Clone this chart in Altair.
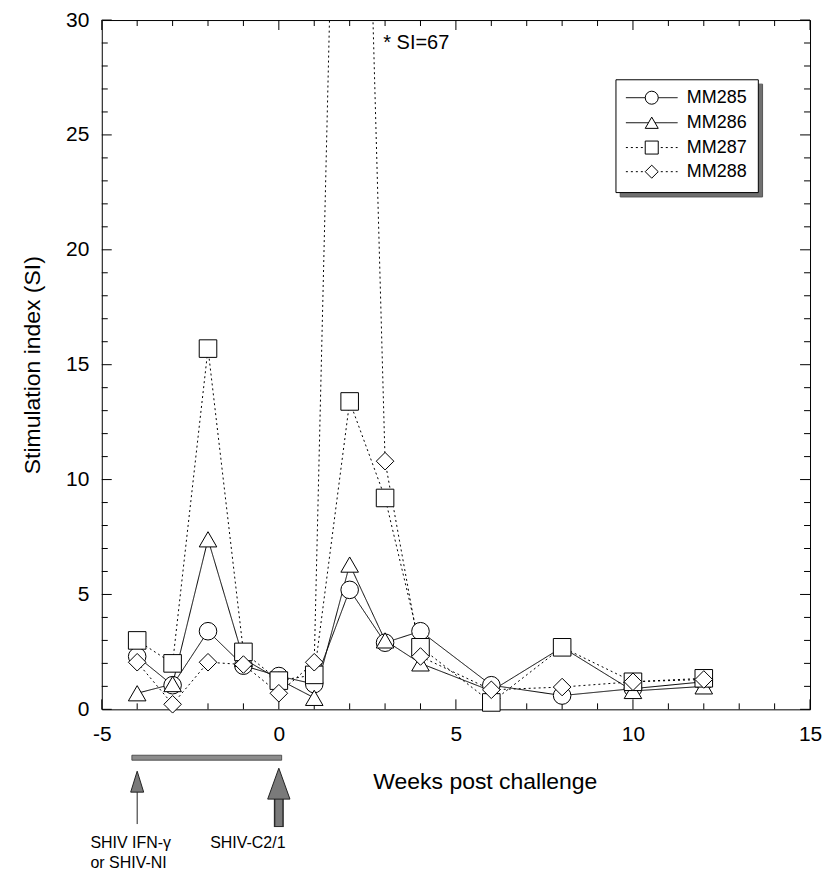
import altair as alt
import pandas as pd

# ---- data ----
weeks = [-4, -3, -2, -1, 0, 1, 2, 3, 4, 6, 8, 10, 12]
mm285 = [2.3, 1.05, 3.4, 1.9, 1.45, 1.1, 5.2, 2.9, 3.4, 1.05, 0.6, 0.9, 1.2]
mm286 = [0.7, 1.1, 7.4, 2.2, 1.3, 0.5, 6.3, 3.0, 2.0, 0.8, 2.7, 0.8, 1.0]
mm287 = [3.0, 2.0, 15.7, 2.5, 1.25, 1.5, 13.4, 9.2, 2.7, 0.3, 2.7, 1.2, 1.35]
mm288 = [2.05, 0.22, 2.05, 1.95, 0.7, 2.05, 67, 10.8, 2.3, 0.85, 0.97, 1.2, 1.3]
animals = ["MM285", "MM286", "MM287", "MM288"]
shapes = ["circle", "triangle-up", "square", "diamond"]
dashes = [[1, 0], [1, 0], [2, 3], [2, 3]]

x_ticks_major = [-5, 0, 5, 10, 15]
x_ticks_minor = [v for v in range(-5, 16) if v % 5]
y_ticks_major = [0, 5, 10, 15, 20, 25, 30]
y_ticks_minor = [v for v in range(0, 31) if v % 5]

# legend rows (in data units inside the plot)
leg_rows = [26.62, 25.53, 24.45, 23.40]
leg_box = dict(x1=9.52, x2=13.54, y1=27.40, y2=22.49)

# annotation
vacc_weeks = [-4, 0]
bar_span = [-4.15, 0.08]
note_text = "* SI=67"

W, H = 710, 691
FONT = "Liberation Sans, Arial, Helvetica, sans-serif"

rows = []
for i, (name, vals) in enumerate(zip(animals, [mm285, mm286, mm287, mm288])):
    for w, v in zip(weeks, vals):
        rows.append({"animal": name, "week": w, "si": v, "idx": i})
df = pd.DataFrame(rows)

xs = alt.Scale(domain=[-5, 15], nice=False, zero=False)
ys = alt.Scale(domain=[0, 30], nice=False, zero=False)

dash_scale = alt.Scale(domain=animals, range=dashes)
shape_scale = alt.Scale(domain=animals, range=shapes)

x_axis = alt.Axis(values=x_ticks_major, ticks=False, domain=False, grid=False,
                  labelExpr="'' + datum.value", labelFlush=False, labelOverlap=False,
                  labelFontSize=21, labelFont=FONT, labelColor="black", labelPadding=14,
                  title="Weeks post challenge", titleFont=FONT, titleFontSize=23,
                  titleFontWeight="normal", titleColor="black",
                  titleX=384, titleY=72, titleAlign="center", titleBaseline="middle")
y_axis = alt.Axis(values=y_ticks_major, ticks=False, domain=False, grid=False,
                  labelExpr="'' + datum.value", labelFlush=False, labelOverlap=False,
                  labelFontSize=21, labelFont=FONT, labelColor="black", labelPadding=13,
                  title="Stimulation index (SI)", titleFont=FONT, titleFontSize=23,
                  titleFontWeight="normal", titleColor="black",
                  titleX=-69, titleY=H / 2, titleAngle=270, titleAlign="center",
                  titleBaseline="middle")

lines = alt.Chart(df).mark_line(clip=True, color="black", strokeWidth=1).encode(
    x=alt.X("week:Q", scale=xs, axis=x_axis),
    y=alt.Y("si:Q", scale=ys, axis=y_axis),
    detail="animal:N",
    strokeDash=alt.StrokeDash("animal:N", scale=dash_scale, legend=None),
    order="week:Q",
)

points = alt.Chart(df).transform_filter("datum.si <= 30").mark_point(
    filled=True, fill="white", stroke="black", strokeWidth=1, size=310, opacity=1
).encode(
    x=alt.X("week:Q", scale=xs),
    y=alt.Y("si:Q", scale=ys),
    shape=alt.Shape("animal:N", scale=shape_scale, legend=None),
    order="idx:Q",
)

# inward ticks on all four sides
def vticks(vals, length, top):
    d = pd.DataFrame({"v": vals})
    if top:
        enc = dict(y=alt.value(0), y2=alt.value(length))
    else:
        enc = dict(y=alt.value(H), y2=alt.value(H - length))
    return alt.Chart(d).mark_rule(color="black", strokeWidth=1).encode(
        x=alt.X("v:Q", scale=xs), **enc)

def hticks(vals, length, right):
    d = pd.DataFrame({"v": vals})
    if right:
        enc = dict(x=alt.value(W), x2=alt.value(W - length))
    else:
        enc = dict(x=alt.value(0), x2=alt.value(length))
    return alt.Chart(d).mark_rule(color="black", strokeWidth=1).encode(
        y=alt.Y("v:Q", scale=ys), **enc)

ticks = [
    vticks(x_ticks_major, 10, False), vticks(x_ticks_minor, 6, False),
    vticks(x_ticks_major, 10, True), vticks(x_ticks_minor, 6, True),
    hticks(y_ticks_major, 10, False), hticks(y_ticks_minor, 6, False),
    hticks(y_ticks_major, 10, True), hticks(y_ticks_minor, 6, True),
]

# "* SI=67" note
note = alt.Chart(pd.DataFrame({"week": [2.95], "si": [29.0], "t": [note_text]})).mark_text(
    align="left", baseline="middle", fontSize=20, font=FONT, color="black"
).encode(x=alt.X("week:Q", scale=xs), y=alt.Y("si:Q", scale=ys), text="t:N")

# legend: shadow, box, samples, labels
dx, dy = 0.12, 0.19
shadow_df = pd.DataFrame({"x1": [leg_box["x1"] + dx], "x2": [leg_box["x2"] + dx],
                          "y1": [leg_box["y1"] - dy], "y2": [leg_box["y2"] - dy]})
box_df = pd.DataFrame({"x1": [leg_box["x1"]], "x2": [leg_box["x2"]],
                       "y1": [leg_box["y1"]], "y2": [leg_box["y2"]]})
leg_shadow = alt.Chart(shadow_df).mark_rect(fill="#707070", stroke="#555555", strokeWidth=1).encode(
    x=alt.X("x1:Q", scale=xs), x2="x2:Q", y=alt.Y("y1:Q", scale=ys), y2="y2:Q")
leg_box_m = alt.Chart(box_df).mark_rect(fill="white", stroke="black", strokeWidth=1).encode(
    x=alt.X("x1:Q", scale=xs), x2="x2:Q", y=alt.Y("y1:Q", scale=ys), y2="y2:Q")

leg_df = pd.DataFrame({"animal": animals, "y": leg_rows,
                       "xa": [9.8] * 4, "xb": [11.26] * 4, "xm": [10.53] * 4,
                       "xt": [11.52] * 4})
leg_lines = alt.Chart(leg_df).mark_rule(color="black", strokeWidth=1).encode(
    x=alt.X("xa:Q", scale=xs), x2="xb:Q", y=alt.Y("y:Q", scale=ys),
    strokeDash=alt.StrokeDash("animal:N", scale=dash_scale, legend=None),
)
leg_pts = alt.Chart(leg_df).mark_point(
    filled=True, fill="white", stroke="black", strokeWidth=1, size=170, opacity=1
).encode(
    x=alt.X("xm:Q", scale=xs), y=alt.Y("y:Q", scale=ys),
    shape=alt.Shape("animal:N", scale=shape_scale, legend=None),
)
leg_txt = alt.Chart(leg_df).mark_text(
    align="left", baseline="middle", fontSize=18, font=FONT, color="black"
).encode(x=alt.X("xt:Q", scale=xs), y=alt.Y("y:Q", scale=ys), text="animal:N")

# bottom annotations: bar and arrows
bar = alt.Chart(pd.DataFrame({"a": [bar_span[0]], "b": [bar_span[1]]})).mark_rect(
    fill="#8c8c8c", stroke="#3a3a3a", strokeWidth=0.8
).encode(x=alt.X("a:Q", scale=xs), x2="b:Q", y=alt.value(H + 46), y2=alt.value(H + 51))

thin_df = pd.DataFrame({"w": [vacc_weeks[0]]})
thick_df = pd.DataFrame({"w": [vacc_weeks[1]]})
thin_shaft = alt.Chart(thin_df).mark_rule(color="#222", strokeWidth=1).encode(
    x=alt.X("w:Q", scale=xs), y=alt.value(H + 80), y2=alt.value(H + 115))
thin_head = alt.Chart(thin_df).mark_point(
    shape="M0,-1L0.62,1L-0.62,1Z", filled=True, fill="#7a7a7a", stroke="#222",
    strokeWidth=1, size=441, opacity=1
).encode(x=alt.X("w:Q", scale=xs), y=alt.value(H + 72.5))
thick_shaft_o = alt.Chart(thick_df).mark_rule(color="#2a2a2a", strokeWidth=10).encode(
    x=alt.X("w:Q", scale=xs), y=alt.value(H + 86), y2=alt.value(H + 118))
thick_shaft_i = alt.Chart(thick_df).mark_rule(color="#7a7a7a", strokeWidth=7).encode(
    x=alt.X("w:Q", scale=xs), y=alt.value(H + 86), y2=alt.value(H + 117))
thick_head = alt.Chart(thick_df).mark_point(
    shape="M0,-1L0.72,1L-0.72,1Z", filled=True, fill="#7a7a7a", stroke="#222",
    strokeWidth=1, size=961, opacity=1
).encode(x=alt.X("w:Q", scale=xs), y=alt.value(H + 74.5))

ann_df = pd.DataFrame({
    "w": [-5.32, -5.32, -1.94],
    "t": ["SHIV IFN-γ", "or SHIV-NI", "SHIV-C2/1"],
    "py": [H + 134, H + 154, H + 134],
})
ann = alt.Chart(ann_df).mark_text(
    align="left", baseline="middle", fontSize=16, font=FONT, color="black"
).encode(x=alt.X("w:Q", scale=xs), y=alt.Y("py:Q", scale=None), text="t:N")

chart = alt.layer(
    lines, *ticks, note, leg_shadow, leg_box_m, leg_lines, leg_pts, leg_txt,
    bar, thin_shaft, thin_head, thick_shaft_o, thick_shaft_i, thick_head, ann, points,
).properties(
    width=W, height=H,
    autosize=alt.AutoSizeParams(type="none"),
    padding={"left": 94, "top": 11, "right": 12, "bottom": 164},
    background="white",
).configure_view(stroke="black", strokeWidth=1)

chart.save("out.html", embed_options={"renderer": "svg", "actions": False})
